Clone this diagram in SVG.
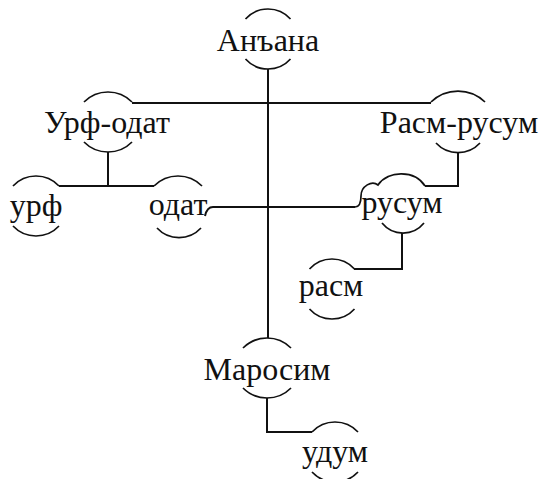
<svg xmlns="http://www.w3.org/2000/svg" width="541" height="479" viewBox="0 0 541 479">
<style>
.arc{fill:none;stroke:#111;stroke-width:1.7}
.ln{fill:none;stroke:#111;stroke-width:2}
.t{font-family:"Liberation Serif","Times New Roman",Times,Tinos,"Noto Serif","DejaVu Serif",FreeSerif,serif;font-size:32px;fill:#111;text-anchor:middle}
</style>
<rect width="541" height="479" fill="#fff"/>
<g id="connectors">
<path class="ln" d="M268,69 V338"/>
<path class="ln" d="M132,103 H431"/>
<path class="ln" d="M108,152 V186 M59,186 H154"/>
<path class="ln" d="M205,216 Q207,207 213,207 H355"/>
<path class="ln" d="M458,152 V186 H425"/>
<path class="ln" d="M402,233 V269 H354"/>
<path class="ln" d="M267,398 V432 H312"/>
</g>
<g id="n-anjana">
<path class="arc" d="M245.5,19 A30.3,30.3 0 0 1 290.5,19 M245.5,59 A30.3,30.3 0 0 0 290.5,59"/>
<text class="t" x="268" y="51">Анъана</text>
</g>
<g id="n-urf-odat">
<path class="arc" d="M84,102 A33.8,33.8 0 0 1 132,102 M84,142 A33.8,33.8 0 0 0 132,142"/>
<text class="t" x="107" y="133">Урф-одат</text>
</g>
<g id="n-rasm-rusum">
<path class="arc" d="M431,102 A38.8,38.8 0 0 1 485,102 M436,143 A30,30 0 0 0 480,143"/>
<text class="t" x="459" y="133">Расм-русум</text>
</g>
<g id="n-urf">
<path class="arc" d="M13,186 A31.5,31.5 0 0 1 59,186 M13,226 A31.5,31.5 0 0 0 59,226"/>
<text class="t" x="36" y="216">урф</text>
</g>
<g id="n-odat">
<path class="arc" d="M154,186 A33.8,33.8 0 0 1 202,186 M157,228 A30,30 0 0 0 201,228"/>
<text class="t" x="178" y="215">одат</text>
</g>
<g id="n-rusum">
<path class="arc" d="M355,207 C360,207 361,200 361,196 C361,186 372,180 378,185 C388,170 415,170 425,186 M382,223 A27,27 0 0 0 424,223"/>
<text class="t" x="402" y="213">русум</text>
</g>
<g id="n-rasm">
<path class="arc" d="M309.5,269 A30.3,30.3 0 0 1 354.5,269 M309.5,309 A30.3,30.3 0 0 0 354.5,309"/>
<text class="t" x="331" y="296">расм</text>
</g>
<g id="n-marosim">
<path class="arc" d="M243,348 A33.8,33.8 0 0 1 291,348 M243,388 A33.8,33.8 0 0 0 291,388"/>
<text class="t" x="267" y="380">Маросим</text>
</g>
<g id="n-udum">
<path class="arc" d="M312,432 A31.5,31.5 0 0 1 358,432 M312,472 A31.5,31.5 0 0 0 358,472"/>
<text class="t" x="335" y="462">удум</text>
</g>
</svg>
